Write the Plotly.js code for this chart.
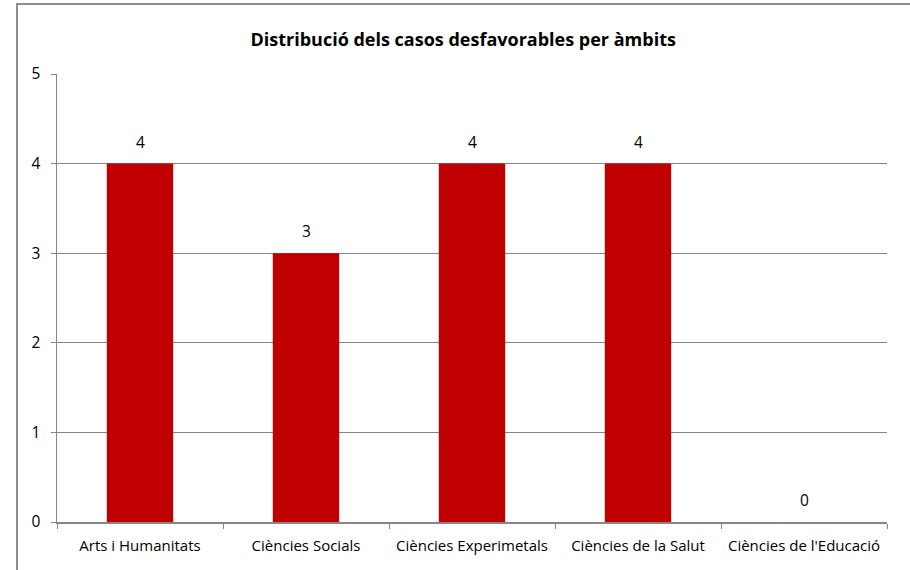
<!DOCTYPE html>
<html>
<head>
<meta charset="utf-8">
<script src="https://cdn.plot.ly/plotly-3.0.1.min.js"></script>
<style>
  html, body { margin: 0; padding: 0; background: #ffffff; }
  #frame { position: absolute; left: 16px; top: 3px; width: 1000px; height: 1000px;
           border-left: 2px solid #8c8c8c; border-top: 2px solid #8c8c8c; }
  #chart { position: absolute; left: 0; top: 0; width: 910px; height: 570px; }
</style>
</head>
<body>
<div id="frame"></div>
<div id="chart"></div>
<script>
const categories = ["Arts i Humanitats", "Ciències Socials", "Ciències Experimetals", "Ciències de la Salut", "Ciències de l'Educació"];
const values = [4, 3, 4, 4, 0];
const yTicks = [0, 1, 2, 3, 4, 5];
const chartTitle = "Distribució dels casos desfavorables per àmbits";

const FONT = "'Open Sans', sans-serif";

const trace = {
  type: "bar",
  x: categories,
  y: values,
  marker: { color: "#C00000" },
  hoverinfo: "x+y"
};

const annotations = categories.map((c, i) => ({
  x: c, y: values[i], xref: "x", yref: "y",
  text: String(values[i]), showarrow: false,
  yanchor: "bottom", yshift: 9,
  font: { family: FONT, size: 15.5, color: "#000000" }
}));

const layout = {
  width: 910, height: 570,
  margin: { l: 57, r: 23, t: 74, b: 48 },
  paper_bgcolor: "rgba(0,0,0,0)",
  plot_bgcolor: "rgba(0,0,0,0)",
  title: { text: "<b>" + chartTitle + "</b>", x: 0.509, xanchor: "center", y: 0.93, yanchor: "middle",
           font: { family: FONT, size: 18, color: "#000000" } },
  bargap: 0.6,
  showlegend: false,
  font: { family: FONT, size: 15.5, color: "#000000" },
  xaxis: {
    type: "category",
    tickangle: 0,
    showline: true, linecolor: "#868686", linewidth: 1.5,
    ticks: "outside", tickson: "boundaries", ticklen: 5, tickcolor: "#868686",
    showgrid: false, zeroline: false,
    ticklabelstandoff: 9,
    tickfont: { family: FONT, size: 15, color: "#000000" }
  },
  yaxis: {
    range: [0, 5],
    tickvals: yTicks,
    ticktext: yTicks.map(String),
    showline: true, linecolor: "#868686", linewidth: 1.5,
    ticks: "outside", ticklen: 5, tickcolor: "#868686",
    showgrid: true, gridcolor: "#868686", gridwidth: 1,
    zeroline: false,
    ticklabelstandoff: 7,
    tickfont: { family: FONT, size: 15.5, color: "#000000" }
  },
  annotations: annotations
};

Plotly.newPlot("chart", [trace], layout, { displayModeBar: false, staticPlot: true });
</script>
</body>
</html>
